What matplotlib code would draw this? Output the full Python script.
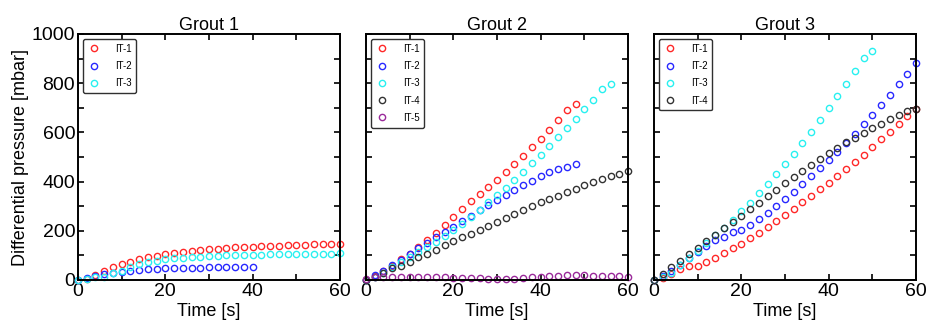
import matplotlib
matplotlib.use("Agg")
import matplotlib.pyplot as plt
from matplotlib.ticker import MultipleLocator
import numpy as np

plt.rcParams['font.family'] = ['Liberation Sans', 'DejaVu Sans']

# time axis: one sample every 2 s
t = np.arange(0, 62, 2)

# Grout 1
g1_it1 = [0, 5, 20, 38, 51, 65, 75, 85, 92, 99, 106, 110, 114, 119, 122, 125, 127, 130,
          133, 134, 136, 137, 138, 140, 141, 142, 144, 145, 146, 147, 148]
g1_it2 = [0, 7, 16, 24, 30, 34, 38, 41, 43, 46, 47, 48, 49, 50, 50, 51, 51, 52, 52, 53, 54]
g1_it3 = [0, 3, 11, 14, 27, 38, 54, 64, 72, 79, 84, 88, 91, 93, 95, 98, 99, 100, 101,
          102, 103, 103, 104, 104, 105, 105, 106, 106, 107, 107, 108]

# Grout 2
g2_it1 = [0, 16, 38, 58, 84, 106, 133, 163, 192, 224, 257, 290, 321, 351, 377, 408, 439,
          472, 505, 541, 575, 611, 650, 690, 714]
g2_it2 = [0, 19, 38, 61, 81, 106, 129, 152, 173, 194, 217, 240, 262, 285, 305, 325, 346,
          366, 386, 404, 423, 438, 450, 461, 472]
g2_it3 = [0, 14, 30, 54, 75, 92, 112, 133, 156, 179, 203, 229, 257, 285, 316, 344, 374,
          407, 439, 474, 509, 546, 581, 618, 654, 694, 733, 775, 795]
g2_it4 = [0, 11, 27, 47, 58, 75, 92, 107, 123, 141, 157, 173, 188, 205, 221, 236, 252,
          268, 283, 299, 316, 329, 343, 358, 371, 385, 398, 411, 424, 431, 442]
g2_it5 = [5, 12, 13, 14, 14, 14, 14, 13, 12, 11, 10, 9, 8, 7, 6, 5, 5, 6, 8, 11, 14, 16,
          17, 19, 19, 19, 18, 17, 16, 15, 14]

# Grout 3
g3_it1 = [0, 9, 24, 46, 57, 58, 73, 91, 108, 129, 148, 171, 192, 217, 241, 264, 290, 317,
          343, 370, 396, 424, 451, 480, 509, 541, 572, 603, 636, 667, 696]
g3_it2 = [0, 16, 38, 61, 88, 112, 138, 163, 173, 194, 203, 222, 247, 274, 301, 329, 359,
          392, 423, 455, 488, 522, 558, 595, 633, 671, 711, 753, 795, 839, 883]
g3_it3 = [0, 11, 30, 61, 88, 119, 149, 183, 210, 244, 280, 314, 352, 390, 430, 470, 514,
          558, 603, 650, 698, 748, 798, 851, 904, 931]
g3_it4 = [0, 23, 51, 79, 106, 131, 159, 183, 210, 236, 262, 289, 314, 343, 367, 393, 418,
          443, 467, 490, 515, 538, 560, 579, 599, 618, 636, 653, 669, 686, 696]

colors = {"IT-1": "#ff2828", "IT-2": "#2828ff", "IT-3": "#28f0f0", "IT-4": "#333333", "IT-5": "#9a2a9a"}

panels = [
    ("Grout 1", {"IT-1": g1_it1, "IT-2": g1_it2, "IT-3": g1_it3}),
    ("Grout 2", {"IT-1": g2_it1, "IT-2": g2_it2, "IT-3": g2_it3, "IT-4": g2_it4, "IT-5": g2_it5}),
    ("Grout 3", {"IT-1": g3_it1, "IT-2": g3_it2, "IT-3": g3_it3, "IT-4": g3_it4}),
]

fig = plt.figure(figsize=(9.27, 3.24), dpi=100)
lefts = [78 / 927, 366 / 927, 654 / 927]

for i, (title, series) in enumerate(panels):
    ax = fig.add_axes([lefts[i], 44 / 324, 262 / 927, 246 / 324])
    for name, vals in series.items():
        ax.plot(t[:len(vals)], vals, linestyle='none', marker='o', markersize=4.5,
                markerfacecolor='none', markeredgecolor=colors[name], markeredgewidth=1.0,
                label=name, clip_on=False)
    ax.set_xlim(0, 60)
    ax.set_ylim(0, 1000)
    ax.xaxis.set_major_locator(MultipleLocator(20))
    ax.xaxis.set_minor_locator(MultipleLocator(10))
    ax.yaxis.set_major_locator(MultipleLocator(200))
    ax.yaxis.set_minor_locator(MultipleLocator(100))
    ax.tick_params(which='both', direction='in', top=True, right=True, length=4, width=1.2,
                   labelsize=14, pad=2)
    for s in ax.spines.values():
        s.set_linewidth(1.4)
    ax.set_title(title, fontsize=13, pad=3)
    ax.set_xlabel("Time [s]", fontsize=13, labelpad=2)
    if i == 0:
        ax.set_ylabel("Differential pressure [mbar]", fontsize=13, labelpad=2)
    else:
        ax.set_yticklabels([])
    leg = ax.legend(loc='upper left', fontsize=7, frameon=True, fancybox=True,
                    handletextpad=1.6, borderpad=0.5, labelspacing=0.75,
                    borderaxespad=0.5, handlelength=1.2)
    leg.get_frame().set_edgecolor('#303030')
    leg.get_frame().set_linewidth(1.0)
    leg.get_frame().set_alpha(1)

fig.savefig("out.png", dpi=100)
